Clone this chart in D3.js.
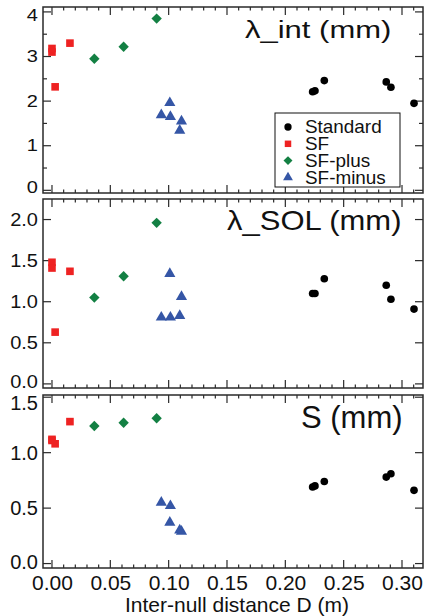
<!DOCTYPE html>
<html>
<head>
<meta charset="utf-8">
<script src="https://cdn.jsdelivr.net/npm/d3@7"></script>
<style>
  html, body { margin: 0; padding: 0; background: #fff; }
  svg { display: block; font-family: "Liberation Sans", Arial, sans-serif; }
</style>
</head>
<body>
<svg id="chart" width="430" height="616"></svg>
<script>
/* Three stacked scatter panels sharing the inter-null distance axis */

// --- data: x positions per configuration (m) ---
const stdX   = [0.2234, 0.2254, 0.2334, 0.2865, 0.2905, 0.3103];
const sfX    = [0.0, 0.0, 0.0027, 0.0154];
const plusX  = [0.0363, 0.0614, 0.0897];
const minusX = [0.0937, 0.1015, 0.1010, 0.1110, 0.1095];

// λ_int (mm)
const intStd   = [2.21, 2.23, 2.46, 2.43, 2.31, 1.95];
const intSF    = [3.10, 3.18, 2.32, 3.30];
const intPlus  = [2.95, 3.22, 3.85];
const intMinus = [1.69, 1.65, 1.96, 1.55, 1.34];

// λ_SOL (mm)
const solStd   = [1.10, 1.10, 1.28, 1.20, 1.03, 0.91];
const solSF    = [1.48, 1.41, 0.63, 1.37];
const solPlus  = [1.05, 1.31, 1.96];
const solMinus = [0.81, 0.81, 1.34, 1.06, 0.83];

// S (mm)
const sStd   = [0.69, 0.70, 0.74, 0.78, 0.81, 0.66];
const sSF    = [1.11, 1.12, 1.08, 1.28];
const sPlus  = [1.24, 1.27, 1.31];
const sMinus = [0.55, 0.52, 0.37, 0.29, 0.30];

const seriesNames = ["Standard", "SF", "SF-plus", "SF-minus"];
const titles = ["\u03bb_int (mm)", "\u03bb_SOL (mm)", "S (mm)"];
const xTicks = [0, 0.05, 0.10, 0.15, 0.20, 0.25, 0.30];
const yTicks1 = [0, 1, 2, 3, 4];
const yTicks2 = [0, 0.5, 1.0, 1.5, 2.0];
const yTicks3 = [0, 0.5, 1.0, 1.5];
const xLabel = "Inter-null distance D (m)";

// --- styling ---
const colors = { Standard: "#000000", SF: "#ee2222", "SF-plus": "#138043", "SF-minus": "#3556a6" };
const shapes = { Standard: d3.symbolCircle, SF: d3.symbolSquare, "SF-plus": d3.symbolSquare, "SF-minus": d3.symbolTriangle };
const sizes  = { Standard: 46, SF: 58, "SF-plus": 54, "SF-minus": 54 };
const rotate = { Standard: 0, SF: 0, "SF-plus": 45, "SF-minus": 0 };
const FRAME = "#2a2a2a";

const xs = [stdX, sfX, plusX, minusX];
const panels = [
  { title: titles[0], vals: [intStd, intSF, intPlus, intMinus], domain: [-0.06, 4.11],
    top: 7, bottom: 193, ticks: yTicks1, minor: [0.5, 1.5, 2.5, 3.5], fmt: d3.format("d"),
    squish: 0.8, titlePos: [245, 38] },
  { title: titles[1], vals: [solStd, solSF, solPlus, solMinus], domain: [-0.05, 2.25],
    top: 199, bottom: 388, ticks: yTicks2, minor: [], fmt: d3.format(".1f"),
    squish: 0.88, titlePos: [227, 230] },
  { title: titles[2], vals: [sStd, sSF, sPlus, sMinus], domain: [-0.04, 1.52],
    top: 395, bottom: 568, ticks: yTicks3, minor: [], fmt: d3.format(".1f"),
    squish: 1, titlePos: [301, 428] }
];

const L = 43, R = 423;
const svg = d3.select("#chart");

const x = d3.scaleLinear().domain([-0.0077, 0.318]).range([L, R]);
const xMinor = d3.range(0, 0.32, 0.01).map(v => +v.toFixed(2));

panels.forEach((p, pi) => {
  const y = d3.scaleLinear().domain(p.domain).range([p.bottom, p.top]);
  const g = svg.append("g");

  // ticks pointing inward on all four sides
  const tk = g.append("g").attr("stroke", FRAME).attr("stroke-width", 1.2);
  xMinor.forEach(v => {
    const major = xTicks.some(t => Math.abs(t - v) < 1e-6);
    const len = major ? 8 : 3.5;
    tk.append("line").attr("x1", x(v)).attr("x2", x(v)).attr("y1", p.bottom).attr("y2", p.bottom - len);
    tk.append("line").attr("x1", x(v)).attr("x2", x(v)).attr("y1", p.top).attr("y2", p.top + len);
  });
  p.ticks.forEach(v => {
    tk.append("line").attr("x1", L).attr("x2", L + 8).attr("y1", y(v)).attr("y2", y(v));
    tk.append("line").attr("x1", R).attr("x2", R - 8).attr("y1", y(v)).attr("y2", y(v));
  });
  p.minor.forEach(v => {
    tk.append("line").attr("x1", L).attr("x2", L + 4).attr("y1", y(v)).attr("y2", y(v));
    tk.append("line").attr("x1", R).attr("x2", R - 4).attr("y1", y(v)).attr("y2", y(v));
  });

  // frame
  g.append("rect")
    .attr("x", L).attr("y", p.top)
    .attr("width", R - L).attr("height", p.bottom - p.top)
    .attr("fill", "none").attr("stroke", FRAME).attr("stroke-width", 1.5);

  // y tick labels (squished vertically like the source), kept inside the panel band
  g.selectAll("text.ylab")
    .data(p.ticks)
    .join("text")
    .attr("class", "ylab")
    .attr("transform", d => `translate(38, ${Math.min(Math.max(y(d), p.top + 8), p.bottom - 6)}) scale(1, ${p.squish})`)
    .attr("text-anchor", "end")
    .attr("dy", "0.36em")
    .attr("font-size", 20)
    .attr("fill", "#111")
    .text(d => p.fmt(d));

  // panel title
  g.append("text")
    .attr("transform", `translate(${p.titlePos[0]}, ${p.titlePos[1]}) scale(1, ${p.squish})`)
    .attr("font-size", 31)
    .attr("fill", "#111")
    .text(p.title);

  // points
  seriesNames.forEach((name, si) => {
    const pts = xs[si].map((xv, i) => ({ x: xv, y: p.vals[si][i] }));
    g.selectAll(null)
      .data(pts)
      .join("path")
      .attr("d", d3.symbol().type(shapes[name]).size(sizes[name]))
      .attr("transform", d => `translate(${x(d.x)}, ${y(d.y)}) rotate(${rotate[name]})`)
      .attr("fill", colors[name]);
  });

  // legend in first panel
  if (pi === 0) {
    const lg = g.append("g");
    lg.append("rect")
      .attr("x", 275).attr("y", 113).attr("width", 125).attr("height", 74)
      .attr("fill", "#fff").attr("stroke", "#111").attr("stroke-width", 1);
    seriesNames.forEach((name, i) => {
      const cy = 127 + i * 16.8;
      lg.append("path")
        .attr("d", d3.symbol().type(shapes[name]).size(name === "SF-plus" ? 40 : 42))
        .attr("transform", `translate(288, ${cy}) rotate(${rotate[name]})`)
        .attr("fill", colors[name]);
      lg.append("text")
        .attr("transform", `translate(305, ${cy}) scale(1.08, 1)`)
        .attr("dy", "0.36em")
        .attr("font-size", 17.5).attr("fill", "#111")
        .text(name);
    });
  }
});

// shared x axis labels under bottom panel
const xAxis = d3.axisBottom(x).tickValues(xTicks).tickFormat(d3.format(".2f")).tickSize(0).tickPadding(0);
const ax = svg.append("g")
  .attr("transform", `translate(0, 574)`)
  .call(xAxis);
ax.select(".domain").remove();
ax.selectAll("text")
  .attr("font-size", 21)
  .attr("font-family", "Liberation Sans, Arial, sans-serif")
  .attr("fill", "#111")
  .attr("dy", "0.75em");

svg.append("text")
  .attr("x", (L + R) / 2 + 4)
  .attr("y", 612)
  .attr("text-anchor", "middle")
  .attr("font-size", 21)
  .attr("fill", "#111")
  .text(xLabel);
</script>
</body>
</html>
